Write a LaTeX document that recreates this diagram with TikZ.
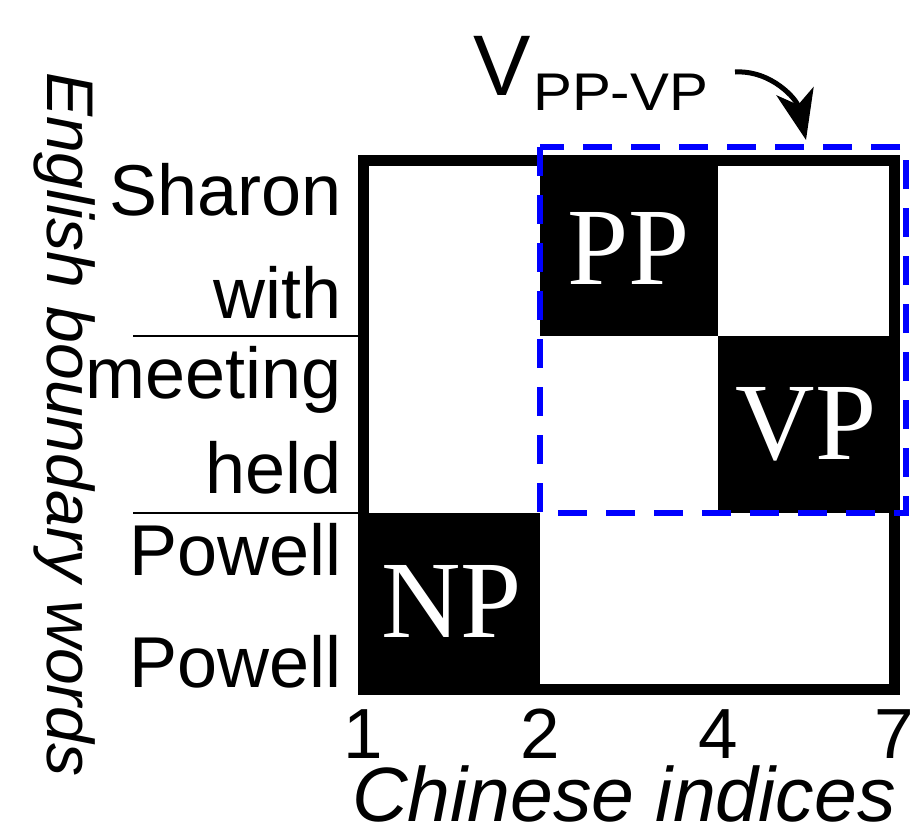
\documentclass[tikz,border=0pt]{standalone}
\usepackage{fontspec}
\setmainfont{Liberation Sans}
\newfontfamily\cellfont{Liberation Serif}
\usetikzlibrary{arrows.meta}
\definecolor{vblue}{RGB}{0,0,255}
\tikzset{
  word/.style={inner sep=0pt, anchor=base east, font=\fontsize{72}{72}\selectfont},
  num/.style={inner sep=0pt, anchor=base, font=\fontsize{71}{71}\selectfont},
  cell/.style={fill=black, text=white, inner sep=0pt, font=\fontsize{110}{110}\selectfont\cellfont},
  rulel/.style={line width=2.5pt},
  frame/.style={line width=11pt},
  bluebox/.style={vblue, line width=6pt, dash pattern=on 29pt off 19pt},
}
\begin{document}
\begin{tikzpicture}[x=1pt,y=-1pt]
\useasboundingbox (0,0) rectangle (916,830);
\fill[white] (0,0) rectangle (916,830);
% black cells
\node[cell, minimum width=177pt, minimum height=176pt] (np) at (451.5,601) {NP};
\node[cell, minimum width=178pt, minimum height=176pt] (pp) at (629,248) {PP};
\node[cell, minimum width=176pt, minimum height=177pt] (vp) at (806,424.5) {VP};
% frame
\draw[frame] (363,160) rectangle (894,689);
% blue dashed box
\draw[bluebox] (540,147) rectangle (906,513);
% left separators
\draw[rulel] (133,336) -- (363,336);
\draw[rulel] (133,513) -- (363,513);
% row words
\node[word] (w1) at (342,215) {Sharon};
\node[word] (w2) at (342,318) {with};
\node[word] (w3) at (342,398) {meeting};
\node[word] (w4) at (342,493) {held};
\node[word] (w5) at (342,575) {Powell};
\node[word] (w6) at (342,687) {Powell};
% column indices
\node[num] (c1) at (363,758) {1};
\node[num] (c2) at (540,758) {2};
\node[num] (c4) at (718,758) {4};
\node[num] (c7) at (894,758) {7};
% axis titles
\node[inner sep=0pt, anchor=base west, font=\fontsize{77}{77}\selectfont\itshape] (xlab) at (352,821) {Chinese indices};
\node[inner sep=0pt, anchor=base west, rotate=-90, font=\fontsize{66}{66}\selectfont\itshape] (ylab) at (47,72) {English boundary words};
% V_{PP-VP} label
\node[inner sep=0pt, anchor=base west, font=\fontsize{86}{86}\selectfont] (vlab) at (473,95) {V};
\node[inner sep=0pt, anchor=base west, font=\fontsize{53}{53}\selectfont] (vsub) at (533,110) {\scalebox{1.1}[1]{PP-VP}};
% arrow
\coordinate (as) at (735,72);
\coordinate (ae) at (806,140);
\draw[line width=5pt, -{Stealth[length=50pt,width=38pt,inset=14pt]}] (as) .. controls (772,70) and (797,100) .. (ae);
\end{tikzpicture}
\end{document}
